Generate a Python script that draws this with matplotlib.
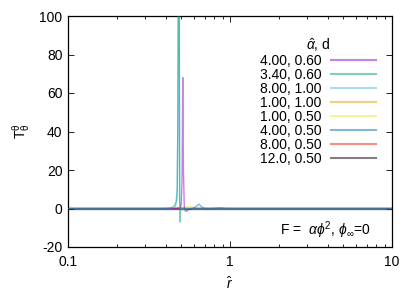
import matplotlib
matplotlib.use("Agg")
import matplotlib.pyplot as plt
from matplotlib.ticker import NullFormatter, LogLocator

plt.rcParams['font.family'] = ['Liberation Sans', 'DejaVu Sans']
plt.rcParams['mathtext.fontset'] = 'custom'
plt.rcParams['mathtext.rm'] = 'Liberation Sans'
plt.rcParams['mathtext.it'] = 'Liberation Sans:italic'
plt.rcParams['mathtext.sf'] = 'Liberation Sans'
plt.rcParams['axes.unicode_minus'] = False

labels = ["4.00, 0.60", "3.40, 0.60", "8.00, 1.00", "1.00, 1.00",
          "1.00, 0.50", "4.00, 0.50", "8.00, 0.50", "12.0, 0.50"]
colors = ["#9400d3", "#009e73", "#56b4e9", "#e69f00",
          "#f0e442", "#0072b2", "#e51e10", "#000000"]

r_purple = [0.1, 0.45, 0.49, 0.500, 0.506, 0.511, 0.516, 0.522, 0.53, 0.535, 0.55, 0.57, 10]
t_purple = [0, 0, 0.3, 2, 15, 68, 20, 1, -1.2, -1.5, -0.8, 0, 0]

r_green = [0.1, 0.40, 0.44, 0.455, 0.465, 0.472, 0.476, 0.480, 0.486, 0.489, 0.491, 0.494, 0.50, 0.52, 10]
t_green = [0, 0, 0.5, 1.5, 3.5, 10, 40, 130, 130, 20, -7, -2, 0, 0, 0]

r_lblue = [0.1, 0.44, 0.46, 0.472, 0.478, 0.482, 0.485, 0.488, 0.50, 10]
t_lblue = [0, 0, 1, 5, 60, 130, 130, 3, 0, 0]

r_orange = [0.1, 0.45, 0.48, 0.50, 0.52, 0.56, 10]
t_orange = [0, 0, 0.3, 0.6, 0.3, 0, 0]

r_yellow = [0.1, 0.48, 0.51, 0.54, 0.57, 0.60, 0.63, 10]
t_yellow = [0, 0, 0.4, 1.0, 1.0, 0.5, 0, 0]

r_blue = [0.1, 0.52, 0.56, 0.59, 0.62, 0.644, 0.67, 0.70, 10]
t_blue = [0, 0, -0.4, 0, 1.2, 2.2, 0.8, 0, 0]

r_red = [0.1, 0.78, 0.83, 0.867, 0.90, 0.95, 10]
t_red = [0, 0, 0.2, 0.4, 0.2, 0, 0]

r_black = [0.1, 10]
t_black = [0, 0]

series = [(r_purple, t_purple), (r_green, t_green), (r_lblue, t_lblue),
          (r_orange, t_orange), (r_yellow, t_yellow), (r_blue, t_blue),
          (r_red, t_red), (r_black, t_black)]
zorders = [3, 4, 2.5, 2, 2, 2, 2, 2]

fig = plt.figure(figsize=(4.17, 2.92), dpi=100)
ax = fig.add_axes([68/417, 1 - 247/292, (392-68)/417, (247-16)/292])

for (x, y), c, lab, z in zip(series, colors, labels, zorders):
    ax.plot(x, y, color=c, alpha=0.5, lw=1.0, label=lab, zorder=z)

ax.set_xscale('log')
ax.set_xlim(0.1, 10)
ax.set_ylim(-20, 100)
ax.set_yticks([-20, 0, 20, 40, 60, 80, 100])
ax.set_xticks([0.1, 1, 10])
ax.set_xticklabels(["0.1", "1", "10"])
ax.xaxis.set_minor_locator(LogLocator(base=10, subs=range(2, 10)))
ax.xaxis.set_minor_formatter(NullFormatter())
ax.tick_params(which='both', direction='in', top=True, right=True, labelsize=10)
ax.tick_params(axis='y', pad=4)
ax.tick_params(axis='x', pad=6)
ax.tick_params(which='major', length=4, width=0.6)
ax.tick_params(which='minor', length=2, width=0.6)
for s in ax.spines.values():
    s.set_linewidth(0.9)

ax.set_xlabel(r"$\hat{r}$", fontsize=10, labelpad=4)
ax.set_ylabel(r"$\mathregular{T^{\theta}_{\theta}}$", fontsize=10, labelpad=5)

leg = ax.legend(loc='upper right', bbox_to_anchor=(0.98, 0.955), frameon=False,
                markerfirst=False, fontsize=10, handlelength=3.2, handletextpad=0.7,
                labelspacing=0.0, title=r"$\hat{\alpha}$, d", title_fontsize=10,
                borderpad=0.2)
for line in leg.get_lines():
    line.set_linewidth(1.5)

ax.text(0.655, 0.025, r"F =  $\alpha\phi^{2}$, $\phi_{\infty}$=0", transform=ax.transAxes,
        fontsize=10, ha='left', va='bottom')

fig.savefig("out.png", dpi=100)
